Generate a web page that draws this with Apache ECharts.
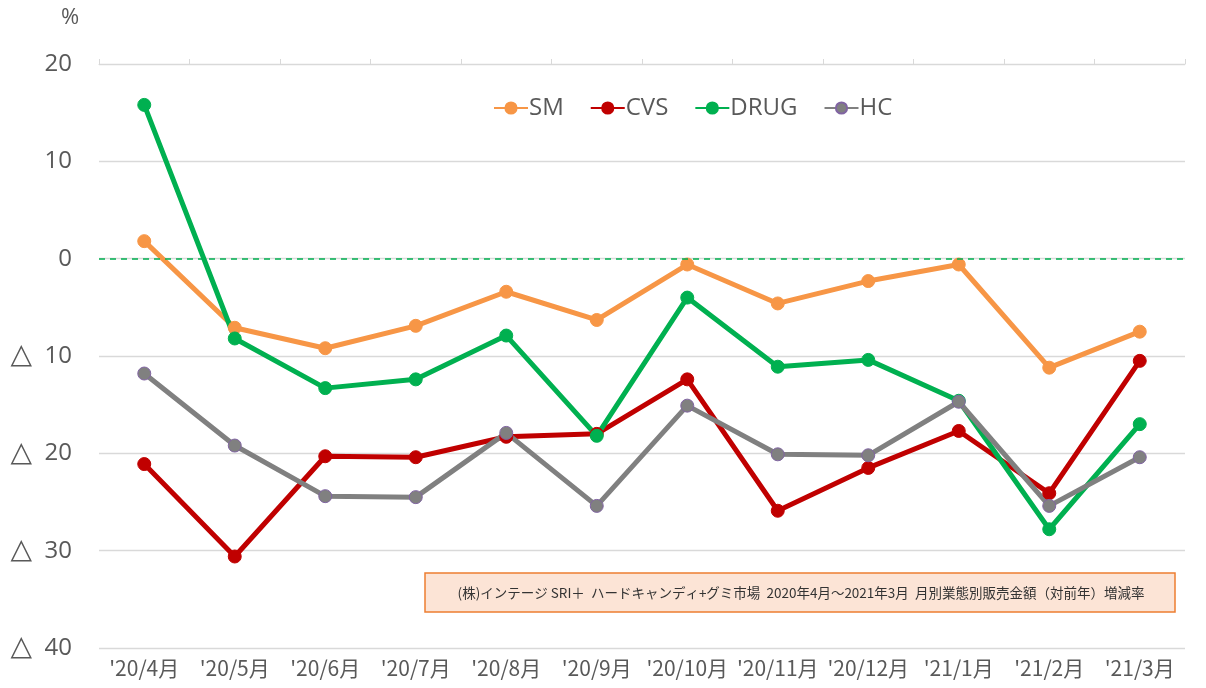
<!DOCTYPE html>
<html><head><meta charset="utf-8">
<script src="https://cdn.jsdelivr.net/npm/echarts@6/dist/echarts.min.js"></script>
<style>html,body{margin:0;padding:0;background:#fff}#c{width:1206px;height:688px}</style>
</head><body><div id="c"></div>
<script>
const categories = ["'20/4月","'20/5月","'20/6月","'20/7月","'20/8月","'20/9月","'20/10月","'20/11月","'20/12月","'21/1月","'21/2月","'21/3月"];
const SM   = [1.8, -7.1, -9.2, -6.9, -3.4, -6.3, -0.6, -4.6, -2.3, -0.6, -11.2, -7.5];
const CVS  = [-21.1, -30.6, -20.3, -20.4, -18.3, -18.0, -12.4, -25.9, -21.5, -17.7, -24.1, -10.5];
const DRUG = [15.8, -8.2, -13.3, -12.4, -7.9, -18.2, -4.0, -11.1, -10.4, -14.6, -27.8, -17.0];
const HC   = [-11.8, -19.2, -24.4, -24.5, -17.9, -25.4, -15.1, -20.1, -20.2, -14.7, -25.4, -20.4];
const noteText = '(株)インテージ SRI＋  ハードキャンディ+グミ市場  2020年4月～2021年3月  月別業態別販売金額（対前年）増減率';

const chart = echarts.init(document.getElementById('c'));
const font = "'Noto Sans CJK JP', 'Noto Sans', sans-serif";
const latin = "'Open Sans', sans-serif";
function mk(name, data, color, border){
  return {
    name, type:'line', data, xAxisIndex:0,
    symbol:'circle', symbolSize:13,
    lineStyle:{color, width:5},
    itemStyle:{color, borderColor:border, borderWidth:1},
    emphasis:{disabled:true}, z: 3
  };
}
const series = [
  mk('SM', SM, '#F79646', '#F79646'),
  mk('CVS', CVS, '#C00000', '#C00000'),
  mk('DRUG', DRUG, '#00B050', '#00B050'),
  mk('HC', HC, '#808080', '#8064A2'),
  {type:'line', xAxisIndex:1, data:[], silent:true,
   markLine:{symbol:'none', silent:true, label:{show:false},
     lineStyle:{color:'#00B050', type:[6,5], width:1.5},
     data:[{yAxis:0}]}}
];
chart.setOption({
  animation:false,
  textStyle:{fontFamily:font},
  grid:{left:99, right:21, top:64, bottom:40},
  legend:{
    data:['SM','CVS','DRUG','HC'], top:91, left:488,
    itemGap:26, itemWidth:34, itemHeight:14,
    textStyle:{fontSize:24, color:'#595959', fontFamily:latin, padding:[0,0,0,-4]}
  },
  xAxis:[{
    type:'category', data:categories, boundaryGap:true,
    axisLine:{show:false}, axisTick:{show:false},
    axisLabel:{fontSize:21, color:'#595959', margin:10, interval:0}
  },{
    type:'category', data:categories, boundaryGap:true,
    axisLine:{onZero:true, lineStyle:{color:'#D9D9D9'}},
    axisTick:{show:true, length:5, lineStyle:{color:'#D9D9D9'}},
    axisLabel:{show:false}
  }],
  yAxis:{
    type:'value', min:-40, max:20, interval:10,
    axisLine:{show:false}, axisTick:{show:false},
    splitLine:{lineStyle:{color:'#D9D9D9', width:1.3}},
    axisLabel:{fontSize:24, color:'#595959', margin:27,
      fontFamily:latin,
      formatter:v => v < 0 ? '{t|△}  ' + (-v) : String(v),
      rich:{t:{fontSize:28, color:'#595959', fontFamily:"'DejaVu Sans', sans-serif"}}}
  },
  series,
  graphic:[
    {type:'text', left:61, top:7, style:{text:'%', fontSize:22, fill:'#595959', fontFamily:latin}},
    {type:'rect', shape:{x:425, y:573, width:750, height:39},
     style:{fill:'#FCE4D6', stroke:'#ED7D31', lineWidth:1.5}, z:10},
    {type:'text', z:11, style:{x:801, y:593, text:noteText, fontSize:13.5, fill:'#333333',
      fontFamily:font, align:'center', verticalAlign:'middle'}}
  ]
});
</script></body></html>
